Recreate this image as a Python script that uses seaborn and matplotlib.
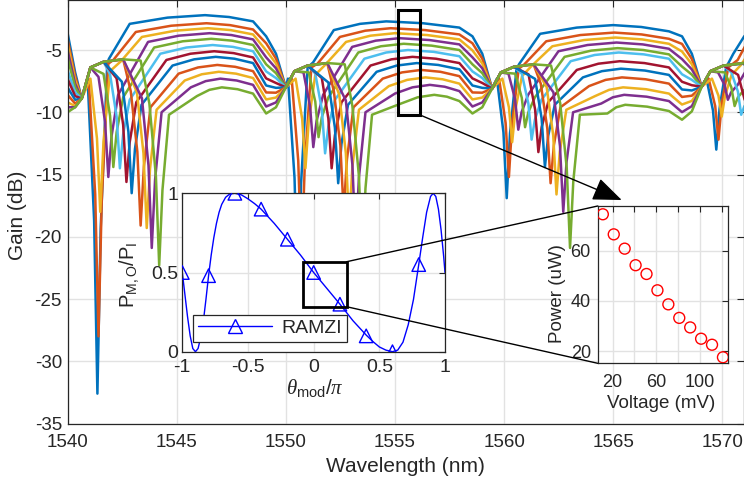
import pandas as pd
import matplotlib
matplotlib.use('Agg')
import matplotlib.pyplot as plt
import seaborn as sns
from matplotlib.patches import Rectangle, ConnectionPatch
from matplotlib.lines import Line2D

sns.set_theme(style='white')
plt.rcParams['font.family'] = ['Liberation Sans', 'DejaVu Sans']
plt.rcParams['mathtext.fontset'] = 'custom'
plt.rcParams['mathtext.rm'] = 'Liberation Sans'
plt.rcParams['mathtext.sf'] = 'Liberation Sans'
plt.rcParams['mathtext.it'] = 'Liberation Serif:italic'
plt.rcParams['axes.unicode_minus'] = False

TXT = '#262626'
GRID = '#e2e2e2'

# ---------------- main spectra (wavelength nm, gain dB) ----------------
wl_01 = [1540.0,1540.35,1540.65,1540.92,1541.22,1541.37,1541.52,1541.82,1541.9,1542.85,1544.58,1546.3,1547.4,1548.5,1549.1,1549.55,1550.0,
         1550.1,1550.4,1550.55,1550.7,1551.0,1551.25,1552.2,1553.4,1554.6,1556.28,1557.95,1558.55,1559.0,1559.45,
         1559.67,1559.97,1560.12,1560.27,1560.57,1560.7,1561.65,1563.33,1565.0,1566.28,1567.55,1568.15,1568.6,1569.05,
         1569.27,1569.57,1569.72,1569.87,1570.17,1570.5,1571.0,1571.3]
gain_01 = [-3.6,-6.8,-8.9,-7.3,-18.7,-32.6,-19.35,-6.1,-5.7,-2.9,-2.4,-2.2,-2.35,-2.7,-3.9,-5.3,-8.0,
           -7.3,-15.27,-25.0,-15.7,-6.4,-6.0,-3.4,-2.9,-2.7,-2.85,-3.2,-3.9,-5.3,-8.1,
           -7.3,-11.62,-16.9,-11.7,-6.5,-6.1,-3.7,-3.2,-3.0,-3.15,-3.5,-3.9,-5.3,-7.95,
           -7.3,-9.87,-13.0,-9.7,-6.4,-5.3,-3.9,-3.4]

wl_02 = [1540.0,1540.35,1540.65,1540.97,1541.27,1541.42,1541.57,1541.87,1542.1,1543.13,1544.75,1546.37,1547.44,1548.5,1549.1,1549.55,1550.0,
         1550.27,1550.57,1550.72,1550.87,1551.17,1551.45,1552.48,1553.64,1554.8,1556.38,1557.95,1558.55,1559.0,1559.45,
         1559.77,1560.07,1560.22,1560.37,1560.67,1560.9,1561.93,1563.49,1565.05,1566.3,1567.55,1568.15,1568.6,1569.05,
         1569.37,1569.67,1569.82,1569.97,1570.27,1570.7,1571.1]
gain_02 = [-4.1,-7.1,-8.9,-7.3,-16.6,-28.0,-17.05,-6.1,-5.8,-3.55,-3.05,-2.85,-3.0,-3.35,-4.46,-5.69,-8.0,
           -7.3,-13.9,-22.0,-14.2,-6.4,-6.1,-3.95,-3.45,-3.25,-3.4,-3.75,-4.46,-5.69,-8.1,
           -7.3,-10.86,-15.2,-10.85,-6.5,-6.2,-4.3,-3.8,-3.6,-3.75,-4.1,-4.51,-5.72,-7.95,
           -7.3,-9.5,-12.2,-9.3,-6.4,-5.8,-4.5]

wl_03 = [1540.0,1540.35,1540.65,1541.05,1541.35,1541.5,1541.65,1541.95,1542.45,1543.41,1544.93,1546.44,1547.47,1548.5,1549.1,1549.55,1550.0,
         1550.45,1550.75,1550.9,1551.05,1551.35,1551.8,1552.76,1553.88,1555.0,1556.48,1557.95,1558.55,1559.0,1559.45,
         1559.92,1560.22,1560.37,1560.52,1560.82,1561.25,1562.21,1563.66,1565.1,1566.33,1567.55,1568.15,1568.6,1569.05,
         1569.52,1569.82,1569.97,1570.12,1570.42,1570.85,1571.3]
gain_03 = [-4.5,-7.4,-8.9,-7.3,-12.1,-18.0,-12.35,-6.7,-5.9,-3.95,-3.45,-3.25,-3.4,-3.75,-5.03,-6.08,-8.0,
           -7.3,-10.54,-14.5,-10.75,-7.0,-6.2,-4.35,-3.85,-3.65,-3.8,-4.15,-5.03,-6.08,-8.1,
           -7.3,-9.6,-12.4,-9.75,-7.1,-6.3,-4.7,-4.2,-4.0,-4.15,-4.5,-5.12,-6.14,-7.95,
           -7.3,-8.67,-10.35,-8.68,-7.0,-6.2,-5.0]

wl_04 = [1540.0,1540.35,1540.65,1541.05,1541.42,1541.72,1541.87,1542.02,1542.32,1543.69,1545.1,1546.51,1547.51,1548.5,1549.1,1549.55,1550.0,
         1550.4,1550.81,1551.11,1551.26,1551.41,1551.71,1553.04,1554.12,1555.2,1556.58,1557.95,1558.55,1559.0,1559.45,
         1559.85,1560.2,1560.5,1560.65,1560.8,1561.1,1562.49,1563.82,1565.15,1566.35,1567.55,1568.15,1568.6,1569.05,
         1569.45,1569.8,1570.1,1570.25,1570.4,1570.7,1571.3]
gain_04 = [-5.0,-7.7,-8.9,-6.4,-7.16,-10.78,-15.2,-11.9,-8.6,-4.35,-3.85,-3.65,-3.8,-4.15,-5.59,-6.47,-8.0,
           -6.7,-6.8,-9.5,-12.8,-10.7,-8.6,-4.75,-4.25,-4.05,-4.2,-4.55,-5.59,-6.47,-8.1,
           -6.8,-6.9,-8.93,-11.4,-10.0,-8.6,-5.1,-4.6,-4.4,-4.55,-4.9,-5.73,-6.56,-7.95,
           -6.7,-6.8,-7.8,-9.0,-8.4,-7.8,-6.0]

wl_05 = [1540.0,1540.35,1540.65,1541.05,1541.65,1541.95,1542.1,1542.25,1542.55,1543.97,1545.28,1546.58,1547.54,1548.5,1549.1,1549.55,1550.0,
         1550.4,1551.05,1551.35,1551.5,1551.65,1551.95,1553.32,1554.36,1555.4,1556.68,1557.95,1558.55,1559.0,1559.45,
         1559.85,1560.51,1560.81,1560.96,1561.11,1561.41,1562.77,1563.99,1565.2,1566.38,1567.55,1568.15,1568.6,1569.05,
         1569.45,1570.11,1570.41,1570.56,1570.71,1571.0]
gain_05 = [-5.6,-8.0,-8.9,-6.4,-6.92,-10.29,-14.4,-11.6,-8.8,-4.8,-4.3,-4.1,-4.25,-4.6,-6.15,-6.86,-8.0,
           -6.7,-6.8,-9.14,-12.0,-10.4,-8.8,-5.2,-4.7,-4.5,-4.65,-5.0,-6.15,-6.86,-8.1,
           -6.8,-6.9,-8.84,-11.2,-10.0,-8.8,-5.55,-5.05,-4.85,-5.0,-5.35,-6.33,-6.98,-7.95,
           -6.7,-6.8,-8.0,-9.5,-8.8,-8.2]

wl_06 = [1540.0,1540.35,1540.65,1541.05,1541.65,1541.95,1542.25,1542.4,1542.55,1542.85,1544.25,1545.45,1546.65,1547.58,1548.5,1549.1,1549.55,1550.0,
         1550.4,1551.0,1551.35,1551.65,1551.8,1551.95,1552.25,1553.6,1554.6,1555.6,1556.78,1557.95,1558.55,1559.0,1559.45,
         1559.85,1560.45,1560.81,1561.11,1561.26,1561.41,1561.71,1563.05,1564.15,1565.25,1566.4,1567.55,1568.15,1568.6,1569.05,
         1569.45,1570.05,1570.41,1570.71,1570.86,1571.01]
gain_06 = [-6.6,-8.4,-8.9,-6.4,-5.95,-6.95,-10.35,-14.5,-11.75,-9.0,-5.3,-4.8,-4.6,-4.75,-5.1,-6.72,-7.25,-8.0,
           -6.7,-6.25,-6.89,-9.77,-13.3,-11.15,-9.0,-5.7,-5.2,-5.0,-5.15,-5.5,-6.72,-7.25,-8.1,
           -6.8,-6.35,-6.9,-9.29,-12.2,-10.6,-9.0,-5.9,-5.4,-5.2,-5.35,-5.7,-6.95,-7.4,-7.95,
           -6.7,-6.25,-6.8,-8.33,-10.2,-9.5]

wl_07 = [1540.0,1540.35,1540.65,1541.05,1541.65,1542.25,1542.55,1542.7,1542.85,1543.15,1544.53,1545.63,1546.72,1547.61,1548.5,1549.1,1549.55,1550.0,
         1550.4,1551.0,1551.65,1551.95,1552.1,1552.25,1552.55,1553.88,1554.84,1555.8,1556.88,1557.95,1558.55,1559.0,1559.45,
         1559.85,1560.45,1561.12,1561.42,1561.57,1561.72,1562.02,1563.33,1564.32,1565.3,1566.43,1567.55,1568.15,1568.6,1569.05,
         1569.45,1570.05,1570.72,1571.02]
gain_07 = [-7.3,-8.7,-8.9,-6.4,-5.95,-7.28,-11.02,-15.6,-12.4,-9.2,-5.8,-5.3,-5.1,-5.25,-5.6,-7.28,-7.65,-8.0,
           -6.7,-6.25,-7.25,-10.51,-14.5,-11.85,-9.2,-6.25,-5.75,-5.55,-5.7,-6.05,-7.28,-7.65,-8.1,
           -6.8,-6.35,-6.96,-9.77,-13.2,-11.2,-9.2,-6.6,-6.1,-5.9,-6.05,-6.4,-7.55,-7.83,-7.95,
           -6.7,-6.25,-7.0,-9.0]

wl_08 = [1540.0,1540.35,1540.65,1541.05,1541.65,1542.49,1542.79,1542.94,1543.09,1543.39,1544.81,1545.8,1546.79,1547.65,1548.5,1549.1,1549.55,1550.0,
         1550.4,1551.0,1551.95,1552.25,1552.4,1552.55,1552.85,1554.16,1555.08,1556.0,1556.98,1557.95,1558.55,1559.0,1559.45,
         1559.85,1560.45,1561.42,1561.72,1561.87,1562.02,1562.32,1563.61,1564.48,1565.35,1566.45,1567.55,1568.15,1568.6,1569.05,
         1569.45,1570.05,1570.95,1571.3]
gain_08 = [-8.0,-9.0,-8.9,-6.4,-5.95,-7.55,-11.58,-16.5,-12.95,-9.4,-6.25,-5.75,-5.55,-5.7,-6.05,-7.85,-8.04,-8.0,
           -6.7,-6.25,-7.61,-11.25,-15.7,-12.55,-9.4,-6.75,-6.25,-6.05,-6.2,-6.55,-7.85,-8.04,-8.1,
           -6.8,-6.35,-7.32,-10.51,-14.4,-11.9,-9.4,-7.2,-6.7,-6.5,-6.65,-7.0,-8.17,-8.25,-7.95,
           -6.7,-6.25,-6.1,-6.5]

wl_09 = [1540.0,1540.35,1540.65,1541.05,1541.65,1542.55,1542.9,1543.2,1543.35,1543.5,1543.8,1545.09,1545.98,1546.86,1547.68,1548.5,1549.1,1549.55,1550.0,
         1550.4,1551.0,1551.9,1552.2,1552.5,1552.65,1552.8,1553.1,1554.44,1555.32,1556.2,1557.08,1557.95,1558.55,1559.0,1559.45,
         1559.85,1560.45,1561.35,1561.68,1561.98,1562.13,1562.28,1562.58,1563.89,1564.65,1565.4,1566.48,1567.55,1568.15,1568.6,1569.05,
         1569.45,1570.05,1570.95,1571.3]
gain_09 = [-8.6,-9.3,-8.9,-6.4,-5.95,-5.75,-8.33,-13.18,-19.1,-14.35,-9.6,-6.9,-6.4,-6.2,-6.35,-6.7,-8.41,-8.43,-8.0,
           -6.7,-6.25,-6.05,-8.3,-12.67,-18.0,-13.8,-9.6,-7.3,-6.8,-6.6,-6.75,-7.1,-8.41,-8.43,-8.1,
           -6.8,-6.35,-6.15,-7.71,-11.31,-15.7,-12.65,-9.6,-7.9,-7.4,-7.2,-7.35,-7.7,-8.77,-8.67,-7.95,
           -6.7,-6.25,-6.05,-6.1]

wl_10 = [1540.0,1540.35,1540.65,1541.05,1541.65,1542.55,1543.18,1543.48,1543.63,1543.78,1544.08,1545.37,1546.15,1546.93,1547.72,1548.5,1549.1,1549.55,1550.0,
         1550.4,1551.0,1551.9,1552.45,1552.75,1552.9,1553.05,1553.35,1554.72,1555.56,1556.4,1557.18,1557.95,1558.55,1559.0,1559.45,
         1559.85,1560.45,1561.35,1561.95,1562.25,1562.4,1562.55,1562.85,1564.17,1564.81,1565.45,1566.5,1567.55,1568.15,1568.6,1569.05,
         1569.45,1570.05,1570.95,1571.3]
gain_10 = [-9.2,-9.5,-8.9,-6.4,-5.95,-5.75,-8.39,-13.3,-19.3,-14.55,-9.8,-7.45,-6.95,-6.75,-6.9,-7.25,-8.97,-8.82,-8.0,
           -6.7,-6.25,-6.05,-8.6,-13.28,-19.0,-14.4,-9.8,-7.9,-7.4,-7.2,-7.35,-7.7,-8.97,-8.82,-8.1,
           -6.8,-6.35,-6.15,-7.98,-11.86,-16.6,-13.2,-9.8,-8.7,-8.2,-8.0,-8.15,-8.5,-9.38,-9.09,-7.95,
           -6.7,-6.25,-6.05,-6.1]

wl_11 = [1540.0,1540.35,1540.65,1541.05,1541.65,1542.55,1543.41,1543.71,1543.86,1544.01,1544.31,1545.65,1546.33,1547.0,1547.75,1548.5,1549.1,1549.55,1550.0,
         1550.4,1551.0,1551.9,1552.75,1553.05,1553.2,1553.35,1553.65,1555.0,1555.8,1556.6,1557.28,1557.95,1558.55,1559.0,1559.45,
         1559.85,1560.45,1561.35,1562.26,1562.56,1562.71,1562.86,1563.16,1564.45,1564.98,1565.5,1566.53,1567.55,1568.15,1568.6,1569.05,
         1569.45,1570.05,1570.95,1571.3]
gain_11 = [-9.6,-9.6,-8.9,-6.4,-5.95,-5.75,-8.87,-14.28,-20.9,-15.45,-10.0,-8.0,-7.5,-7.3,-7.45,-7.8,-9.54,-9.21,-8.0,
           -6.7,-6.25,-6.05,-9.05,-14.2,-20.5,-15.25,-10.0,-8.5,-8.0,-7.8,-7.95,-8.3,-9.54,-9.21,-8.1,
           -6.8,-6.35,-6.15,-8.4,-12.72,-18.0,-14.0,-10.0,-9.3,-8.8,-8.6,-8.75,-9.1,-9.99,-9.51,-7.95,
           -6.7,-6.25,-6.05,-6.1]

wl_12 = [1540.0,1540.35,1540.65,1541.05,1541.65,1542.55,1543.35,1543.75,1544.05,1544.2,1544.35,1544.65,1545.93,1546.5,1547.07,1547.79,1548.5,1549.1,1549.55,1550.0,
         1550.4,1551.0,1551.9,1552.7,1553.05,1553.35,1553.5,1553.65,1553.95,1555.28,1556.04,1556.8,1557.38,1557.95,1558.55,1559.0,1559.45,
         1559.85,1560.45,1561.35,1562.15,1562.57,1562.87,1563.02,1563.17,1563.47,1564.73,1565.14,1565.55,1566.55,1567.55,1568.15,1568.6,1569.05,
         1569.45,1570.05,1570.95,1571.3]
gain_12 = [-10.0,-9.6,-8.9,-6.4,-5.95,-5.75,-5.85,-9.29,-15.14,-22.3,-16.25,-10.2,-8.7,-8.2,-8.0,-8.15,-8.5,-10.1,-9.6,-8.0,
           -6.7,-6.25,-6.05,-6.15,-9.5,-15.13,-22.0,-16.1,-10.2,-9.3,-8.8,-8.6,-8.75,-9.1,-10.1,-9.6,-8.1,
           -6.8,-6.35,-6.15,-6.25,-9.27,-14.5,-20.9,-15.55,-10.2,-10.1,-9.6,-9.4,-9.55,-9.9,-10.6,-9.93,-7.95,
           -6.7,-6.25,-6.05,-6.1]

curve_names = ['c01','c02','c03','c04','c05','c06','c07','c08','c09','c10','c11','c12']
curve_colors = ['#0072BD','#D95319','#EDB120','#7E2F8E','#77AC30','#4DBEEE','#A2142F',
                '#0072BD','#D95319','#EDB120','#7E2F8E','#77AC30']
wl_lists = [wl_01,wl_02,wl_03,wl_04,wl_05,wl_06,wl_07,wl_08,wl_09,wl_10,wl_11,wl_12]
gain_lists = [gain_01,gain_02,gain_03,gain_04,gain_05,gain_06,gain_07,gain_08,gain_09,gain_10,gain_11,gain_12]

# ---------------- inset 1: RAMZI transfer ----------------
theta = [-1.0,-0.98,-0.96,-0.94,-0.92,-0.90,-0.88,-0.86,-0.84,-0.82,-0.80,-0.78,-0.76,-0.74,-0.72,-0.70,
         -0.67,-0.64,-0.60,-0.55,-0.50,-0.45,-0.40,-0.30,-0.20,-0.10,0.0,0.10,0.20,0.30,0.40,0.45,0.50,
         0.55,0.60,0.64,0.68,0.72,0.76,0.80,0.83,0.86,0.89,0.91,0.93,0.95,0.97,0.99,1.0]
p_ratio = [0.50,0.36,0.22,0.10,0.02,0.00,0.02,0.09,0.19,0.33,0.48,0.61,0.72,0.81,0.88,0.93,
           0.975,0.995,1.00,0.99,0.965,0.935,0.90,0.81,0.71,0.61,0.50,0.40,0.30,0.195,0.105,0.065,0.03,
           0.01,0.00,0.01,0.06,0.17,0.33,0.55,0.72,0.88,0.98,1.00,0.98,0.90,0.77,0.60,0.50]
marker_theta = [-1.0,-0.8,-0.6,-0.4,-0.2,0.0,0.2,0.4,0.6,0.8]
marker_p = [0.50,0.48,1.00,0.90,0.71,0.50,0.30,0.10,0.00,0.55]

# ---------------- inset 2: power vs voltage ----------------
voltage = [11,21,31,41,51,61,71,81,91,101,111,121]
power = [74.5,66.5,60.8,54.2,50.7,44.2,38.6,33.2,29.4,24.9,22.5,17.5]

# ================= figure =================
fig = plt.figure(figsize=(7.44, 4.91), dpi=100)
W, H = 744.0, 491.0

def fx(px):
    return px / W

def fy(py):
    return 1.0 - py / H

ax = fig.add_axes([fx(67.5), fy(423.5), (744.23 - 67.5) / W, (423.5 - 0.2) / H])
frames = [pd.DataFrame({'wl': w, 'gain': g, 'curve': n}) for n, w, g in zip(curve_names, wl_lists, gain_lists)]
df = pd.concat(frames, ignore_index=True)
sns.lineplot(data=df, x='wl', y='gain', hue='curve', hue_order=curve_names, palette=curve_colors,
             estimator=None, sort=False, legend=False, lw=1.8, ax=ax)
ax.set_xlim(1540, 1571)
ax.set_ylim(-35, -1)
ax.set_xticks(list(range(1540, 1571, 5)))
ax.set_yticks(list(range(-35, -4, 5)))
ax.grid(True, color=GRID, lw=1.0)
ax.set_axisbelow(True)
ax.tick_params(direction='in', length=5, width=0.8, top=True, right=True, labelsize=13.5,
               colors=TXT)
ax.tick_params(axis='x', pad=7.5)
ax.tick_params(axis='y', pad=4)
for s in ax.spines.values():
    s.set_color(TXT)
    s.set_linewidth(0.9)
ax.set_xlabel('Wavelength (nm)', fontsize=15, color=TXT)
ax.set_ylabel('Gain (dB)', fontsize=15, color=TXT)
ax.xaxis.set_label_coords(0.4987, (423.5 - 457) / 423.3)
ax.yaxis.set_label_coords((27 - 67.5) / 676.7, (423.5 - 215) / 423.3)
ax.add_patch(Rectangle((1555.13, -10.22), 1.02, 8.43, fill=False, ec='black', lw=2.2, zorder=6))

# ---------------- inset 1 ----------------
ax1 = fig.add_axes([fx(182.3), fy(351.7), 262.7 / W, 158.4 / H])
ax1.set_facecolor('white')
sns.lineplot(x=theta, y=p_ratio, color='#0000ff', lw=1.0, sort=False, estimator=None, ax=ax1)
sns.scatterplot(x=marker_theta, y=marker_p, marker='^', s=95, ax=ax1, zorder=4)
tri = ax1.collections[-1]
tri.set_facecolor('none')
tri.set_edgecolor('#0000ff')
tri.set_linewidth(1.0)
ax1.set_xlim(-1, 1)
ax1.set_ylim(0, 1)
ax1.set_xticks([-1, -0.5, 0, 0.5, 1])
ax1.set_xticklabels(['-1', '-0.5', '0', '0.5', '1'])
ax1.set_yticks([0, 0.5, 1])
ax1.set_yticklabels(['0', '0.5', '1'])
ax1.grid(True, color=GRID, lw=1.0)
ax1.set_axisbelow(True)
ax1.tick_params(direction='in', length=4, width=0.8, top=True, right=True, labelsize=14,
                colors=TXT)
ax1.tick_params(axis='x', pad=5)
ax1.tick_params(axis='y', pad=3)
for s in ax1.spines.values():
    s.set_color(TXT)
    s.set_linewidth(0.9)
ax1.set_ylabel(r'P$_{\mathrm{M,O}}$/P$_{\mathrm{I}}$', fontsize=14.5, color=TXT)
ax1.yaxis.set_label_coords((141 - 182.3) / 262.7, 0.484)
ax1.set_xlabel(r'$\theta_{\mathrm{mod}}/\pi$', fontsize=15, color=TXT)
ax1.xaxis.set_label_coords(0.505, (351.7 - 377) / 158.4)
ax1.add_patch(Rectangle((-0.079, 0.284), 0.33, 0.284, fill=False, ec='black', lw=2.0, zorder=6))
handle = Line2D([], [], color='#0000ff', lw=1.0, marker='^', ms=10, mfc='none', mec='#0000ff')
leg = ax1.legend([handle], ['RAMZI'], loc='lower left', bbox_to_anchor=(0.041, 0.061),
                 borderaxespad=0, frameon=True, fancybox=False, fontsize=14, handlelength=3.8,
                 borderpad=0.25, handletextpad=0.5, edgecolor=TXT, framealpha=1)
leg.get_frame().set_linewidth(0.9)

# ---------------- inset 2 ----------------
ax2 = fig.add_axes([fx(597.7), fy(363.3), 130.6 / W, 157.3 / H])
ax2.set_facecolor('white')
sns.scatterplot(x=voltage, y=power, marker='o', s=62, ax=ax2, zorder=4)
circ = ax2.collections[-1]
circ.set_facecolor('none')
circ.set_edgecolor('#ff0000')
circ.set_linewidth(1.0)
ax2.set_xlim(6.3, 125.9)
ax2.set_ylim(15.1, 77.8)
ax2.set_xticks([20, 40, 60, 80, 100, 120])
ax2.set_xticklabels(['20', '', '60', '', '100', ''])
ax2.set_yticks([20, 40, 60])
ax2.grid(True, color=GRID, lw=1.0)
ax2.set_axisbelow(True)
ax2.tick_params(direction='in', length=4, width=0.8, top=True, right=True, labelsize=13,
                colors=TXT)
ax2.tick_params(axis='x', pad=8)
ax2.tick_params(axis='y', pad=5)
for s in ax2.spines.values():
    s.set_color(TXT)
    s.set_linewidth(0.9)
ax2.set_xlabel('Voltage (mV)', fontsize=13.5, color=TXT)
ax2.xaxis.set_label_coords(0.483, (363.3 - 395) / 157.3)
ax2.set_ylabel('Power (uW)', fontsize=13.5, color=TXT)
ax2.yaxis.set_label_coords((566 - 597.7) / 130.6, 0.445)

# ---------------- connectors ----------------
arrow = ConnectionPatch(xyA=(1556.15, -10.22), coordsA='data', axesA=ax,
                        xyB=(fx(621.7), fy(200)), coordsB='figure fraction',
                        arrowstyle='-|>,head_length=1.5,head_width=0.6', mutation_scale=12,
                        color='black', lw=1.0, shrinkA=0, shrinkB=0)
fig.add_artist(arrow)
for ya, yb in [(0.568, 1.0), (0.284, 0.0)]:
    con = ConnectionPatch(xyA=(0.251, ya), coordsA='data', axesA=ax1,
                          xyB=(0.0, yb), coordsB='axes fraction', axesB=ax2,
                          color='black', lw=1.0)
    fig.add_artist(con)

fig.savefig('out.png', dpi=100)
